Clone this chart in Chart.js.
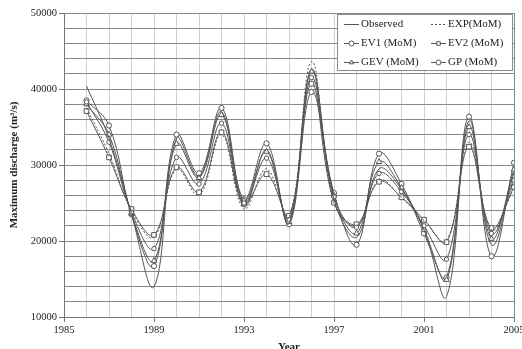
<!DOCTYPE html>
<html>
<head>
<meta charset="utf-8">
<script src="https://cdn.jsdelivr.net/npm/chart.js@4/dist/chart.umd.min.js"></script>
<style>
  html, body { margin: 0; padding: 0; background: #fff; }
  #wrap { width: 522px; height: 349px; }
</style>
</head>
<body>
<div id="wrap"><canvas id="chart" width="522" height="349"></canvas></div>
<script>
// Datos
const years = [1986, 1987, 1988, 1989, 1990, 1991, 1992, 1993, 1994, 1995,
               1996, 1997, 1998, 1999, 2000, 2001, 2002, 2003, 2004, 2005];
const observed = [40400, 33500, 23500, 14000, 33500, 28500, 37000, 24500, 32000, 22300,
                  42600, 25500, 20500, 29500, 26800, 21500, 12700, 35800, 19500, 29000];
const expMoM = [37500, 31500, 24000, 20500, 29500, 26000, 34000, 24200, 29500, 23100,
                43600, 25000, 22000, 28000, 25700, 22700, 20000, 33000, 21500, 27000];
const ev1MoM = [38300, 33000, 23800, 19000, 31000, 27500, 35500, 25000, 30900, 22800,
                41500, 25800, 21800, 28900, 26500, 22000, 17600, 34000, 21000, 28000];
const ev2MoM = [37100, 31000, 24200, 20800, 29700, 26400, 34300, 24900, 28800, 23300,
                40700, 25050, 22200, 27800, 25750, 22800, 19850, 32400, 21700, 27100];
const gevMoM = [38000, 34000, 23600, 17400, 32800, 28300, 36600, 25300, 31750, 22500,
                42300, 26000, 21000, 30400, 27000, 21500, 14900, 35000, 20300, 29400];
const gpMoM = [38500, 35200, 23500, 16700, 34000, 28900, 37500, 25500, 32850, 22200,
               39600, 26300, 19500, 31500, 27500, 21000, 15200, 36360, 18000, 30300];
const seriesNames = ['Observed', 'EXP(MoM)', 'EV1 (MoM)', 'EV2 (MoM)', 'GEV (MoM)', 'GP (MoM)'];

const LINE = '#555555';
const FONT = "'Liberation Serif', 'Times New Roman', serif";

function toXY(values) {
  return values.map((v, i) => ({ x: years[i], y: v }));
}

function series(label, values, style, extra) {
  return Object.assign({
    label: label,
    data: toXY(values),
    borderColor: LINE,
    backgroundColor: '#ffffff',
    borderWidth: 1,
    tension: 0.4,
    pointStyle: style || false,
    pointRadius: style ? 2.5 : 0,
    pointBorderColor: LINE,
    pointBackgroundColor: '#ffffff',
    pointBorderWidth: 1,
    fill: false,
  }, extra || {});
}

// Leyenda dibujada dentro del área del gráfico (2 columnas)
const insideLegend = {
  id: 'insideLegend',
  afterDraw(chart) {
    const ctx = chart.ctx;
    const box = { l: 337, t: 14, r: 513, b: 71 };
    ctx.save();
    ctx.fillStyle = '#ffffff';
    ctx.fillRect(box.l, box.t, box.r - box.l, box.b - box.t);
    ctx.strokeStyle = '#8a8a8a';
    ctx.lineWidth = 1;
    ctx.strokeRect(box.l + 0.5, box.t + 0.5, box.r - box.l - 1, box.b - box.t - 1);

    const colX = [344, 431];
    const rowY = [24, 43, 62];
    chart.data.datasets.forEach((ds, i) => {
      const x0 = colX[i % 2];
      const y = rowY[Math.floor(i / 2)] + 0.5;
      ctx.strokeStyle = LINE;
      ctx.lineWidth = 1;
      ctx.setLineDash(ds.borderDash || []);
      ctx.beginPath();
      ctx.moveTo(x0, y);
      ctx.lineTo(x0 + 15, y);
      ctx.stroke();
      ctx.setLineDash([]);
      if (ds.pointStyle) {
        ctx.fillStyle = '#ffffff';
        Chart.helpers.drawPoint(ctx, {
          pointStyle: ds.pointStyle, radius: 2.5, rotation: 0, borderWidth: 1
        }, x0 + 7.5, y);
      }
      ctx.fillStyle = '#222222';
      ctx.font = '11px ' + FONT;
      ctx.textBaseline = 'middle';
      ctx.textAlign = 'left';
      ctx.fillText(ds.label, x0 + 17, y);
    });

    // Título del eje X
    ctx.font = 'bold 11px ' + FONT;
    ctx.textAlign = 'center';
    ctx.fillText('Year', 289, 347);
    ctx.restore();
  }
};

window.addEventListener('DOMContentLoaded', () => {
  const ctx = document.getElementById('chart');
  new Chart(ctx, {
    type: 'line',
    data: {
      datasets: [
        series(seriesNames[0], observed, false),
        series(seriesNames[1], expMoM, false, { borderDash: [2, 2] }),
        series(seriesNames[2], ev1MoM, 'circle', { pointRadius: 2.2 }),
        series(seriesNames[3], ev2MoM, 'rect', { pointRadius: 3.3 }),
        series(seriesNames[4], gevMoM, 'triangle', { pointRadius: 3.2 }),
        series(seriesNames[5], gpMoM, 'circle', { pointRadius: 2.6 }),
      ]
    },
    options: {
      responsive: false,
      animation: false,
      layout: { padding: { top: 13, right: 8, left: 0, bottom: 0 } },
      plugins: {
        legend: { display: false },
        tooltip: { enabled: false },
      },
      scales: {
        x: {
          type: 'linear',
          min: 1985,
          max: 2005,
          afterFit: (s) => { s.height = 32; s.paddingLeft = 0; s.paddingRight = 0; },
          border: { color: '#777777', width: 1 },
          grid: {
            color: (c) => (c.tick && c.tick.value === 2005) ? '#888888' : '#d0d0d0',
            tickLength: 5,
            tickColor: (c) => (c.tick && (c.tick.value - 1985) % 4 === 0) ? '#777777' : 'rgba(0,0,0,0)',
          },
          ticks: {
            stepSize: 1,
            autoSkip: false,
            maxRotation: 0,
            padding: 2,
            color: '#222222',
            font: { family: FONT, size: 10.5 },
            callback: (v) => ((v - 1985) % 4 === 0 ? String(v) : ''),
          },
          title: { display: false },
        },
        y: {
          min: 10000,
          max: 50000,
          afterFit: (s) => { s.width = 64; s.paddingTop = 0; s.paddingBottom = 0; },
          border: { color: '#777777', width: 1 },
          grid: {
            color: '#888888',
            tickLength: 5,
            tickColor: (c) => (c.tick && c.tick.value % 10000 === 0) ? '#777777' : 'rgba(0,0,0,0)',
          },
          ticks: {
            stepSize: 2000,
            autoSkip: false,
            padding: 2,
            color: '#222222',
            font: { family: FONT, size: 10.5 },
            callback: (v) => (v % 10000 === 0 ? String(v) : ''),
          },
          title: {
            display: true,
            text: 'Maximum discharge (m³/s)',
            color: '#222222',
            font: { family: FONT, size: 11, weight: 'bold' },
            padding: { top: 8, bottom: 0 },
          },
        }
      }
    },
    plugins: [insideLegend]
  });
});
</script>
</body>
</html>
